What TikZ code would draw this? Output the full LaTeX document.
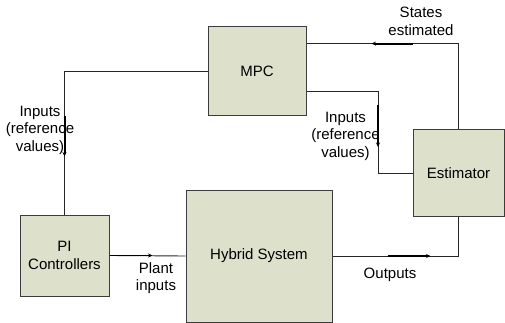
\documentclass[tikz,border=0pt]{standalone}
\usepackage{fontspec}
\setmainfont{Liberation Sans}
\usepackage{tikz}
\usetikzlibrary{positioning,arrows.meta,calc}
\definecolor{bfill}{HTML}{DDE0CB}
\definecolor{bline}{HTML}{3C3C3C}

\begin{document}
\begin{tikzpicture}[x=1pt,y=-1pt,font=\fontsize{15}{17.5}\selectfont,
  block/.style={draw=bline, line width=1pt, fill=bfill, align=center, inner sep=0pt},
  wire/.style={line width=0.9pt, black!85},
  tick/.style={-{Stealth[length=4.5pt,width=4pt]}, line width=2pt},
  lbl/.style={align=center}]
\useasboundingbox (0,0) rectangle (505,323);
% blocks
\node[block, minimum width=98pt, minimum height=89pt] (mpc) at (257,71.5) {MPC};
\node[block, minimum width=89pt, minimum height=81pt] (pi) at (64.5,255.5) {PI\\Controllers};
\node[block, minimum width=146pt, minimum height=132pt] (hyb) at (259,256) {Hybrid System};
\node[block, minimum width=91pt, minimum height=86pt] (est) at (458.5,173) {Estimator};
% connectors
\coordinate (m1) at ($(mpc.north east)!0.19!(mpc.south east)$);
\coordinate (m2) at ($(mpc.north east)!0.72!(mpc.south east)$);
\coordinate (bend) at (378,173);
\draw[wire] (mpc.west) -| (pi.north);
\draw[wire] (est.north) |- (m1);
\draw[wire] (m2) -| (bend) -- (est.west);
\draw[wire] (pi.east) -- (hyb.west);
\draw[wire] (hyb.east) -| (est.south);
% arrow marks on the wires
\draw[tick] ($(pi.north)+(0,-98)$) -- ++(0,40);
\draw[tick] ($(est.north |- m1)+(-46,0)$) -- ++(-41,0);
\draw[tick] ($(bend)+(0,-68)$) -- ++(0,42);
\draw[tick, line width=1pt] (pi.east) -- ++(43,0);
\draw[tick] ($(hyb.east)+(55,0)$) -- ++(43,0);
% labels
\node[lbl] (in1) at (40,130) {Inputs\\(reference\\values)};
\node[lbl] (in2) at (345.5,136) {Inputs\\(reference\\values)};
\node[lbl] (st) at (421,21.5) {States\\estimated};
\node[lbl] (pl) at (156,278) {Plant\\inputs};
\node[lbl] (out) at (390,275) {Outputs};
\end{tikzpicture}
\end{document}
